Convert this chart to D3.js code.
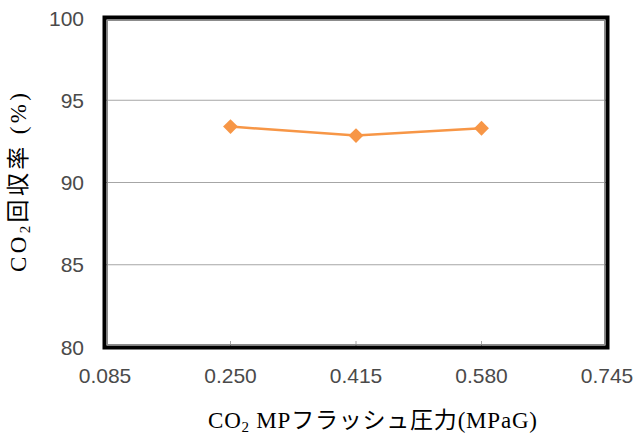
<!DOCTYPE html>
<html><head><meta charset="utf-8">
<script src="https://cdn.jsdelivr.net/npm/d3@7"></script>
<style>body{margin:0;background:#fff}</style>
</head><body>
<svg id="c" width="633" height="434"></svg>
<script>
const xValues = [0.250, 0.415, 0.580];
const recovery = [93.4, 92.85, 93.3];
const xTicks = [0.085, 0.250, 0.415, 0.580, 0.745];
const yTicks = [80, 85, 90, 95, 100];

const svg = d3.select("#c");
const L = 105, R = 607, T = 18, B = 347;
const x = d3.scaleLinear().domain([0.085, 0.745]).range([L, R]);
const y = d3.scaleLinear().domain([80, 100]).range([B, T]);

// gridlines
svg.append("g").selectAll("line").data([85, 90, 95]).join("line")
  .attr("x1", L).attr("x2", R).attr("y1", d => y(d)).attr("y2", d => y(d))
  .attr("stroke", "#a6a6a6").attr("stroke-width", 1.2);

// x ticks (inside, small)
svg.append("g").selectAll("line").data(xTicks.slice(1, -1)).join("line")
  .attr("x1", d => x(d)).attr("x2", d => x(d)).attr("y1", B).attr("y2", B - 6)
  .attr("stroke", "#a6a6a6").attr("stroke-width", 1);

// frame
svg.append("rect").attr("x", L - 0.5).attr("y", T - 0.5).attr("width", R - L + 1).attr("height", B - T + 1)
  .attr("fill", "none").attr("stroke", "#000").attr("stroke-width", 4);
svg.append("rect").attr("x", L + 2.5).attr("y", T + 2.5).attr("width", R - L - 5).attr("height", B - T - 5)
  .attr("fill", "none").attr("stroke", "#8c8c8c").attr("stroke-width", 1);

// tick labels
const sans = "Liberation Sans, Arial, sans-serif";
svg.append("g").selectAll("text").data(yTicks).join("text")
  .attr("x", 84).attr("y", d => y(d)).attr("dy", "0.36em").attr("text-anchor", "end")
  .attr("font-family", sans).attr("font-size", 21).attr("fill", "#4a4a4a")
  .text(d => d);
svg.append("g").selectAll("text").data(xTicks).join("text")
  .attr("x", d => x(d)).attr("y", 383).attr("text-anchor", "middle")
  .attr("font-family", sans).attr("font-size", 21).attr("fill", "#4a4a4a")
  .text(d => d.toFixed(3));

// series line
const line = d3.line().x((d, i) => x(xValues[i])).y(d => y(d));
svg.append("path").datum(recovery).attr("d", line)
  .attr("fill", "none").attr("stroke", "#F79646").attr("stroke-width", 2.5);
svg.append("g").selectAll("path").data(recovery).join("path")
  .attr("d", d3.symbol().type(d3.symbolDiamond2).size(140))
  .attr("transform", (d, i) => `translate(${x(xValues[i])},${y(d)})`)
  .attr("fill", "#F79646");

// axis titles
const serif = "Liberation Serif, 'Times New Roman', 'Noto Sans CJK JP', serif";
const xt = svg.append("text").attr("x", 208).attr("y", 428)
  .attr("font-family", serif).attr("font-size", 23).attr("fill", "#000")
  .attr("textLength", 329).attr("lengthAdjust", "spacing");
xt.append("tspan").text("CO");
xt.append("tspan").attr("font-size", 15).attr("dy", 4).text("2");
xt.append("tspan").attr("dy", -4).text(" MPフラッシュ圧力(MPaG)");

const yt = svg.append("text").attr("transform", `translate(26,272) rotate(-90)`)
  .attr("font-family", serif).attr("font-size", 23).attr("fill", "#000")
  .attr("textLength", 179).attr("lengthAdjust", "spacing");
yt.append("tspan").text("CO");
yt.append("tspan").attr("font-size", 15).attr("dy", 4).text("2");
yt.append("tspan").attr("dy", -4).text("回収率 (%)");
</script>
</body></html>
